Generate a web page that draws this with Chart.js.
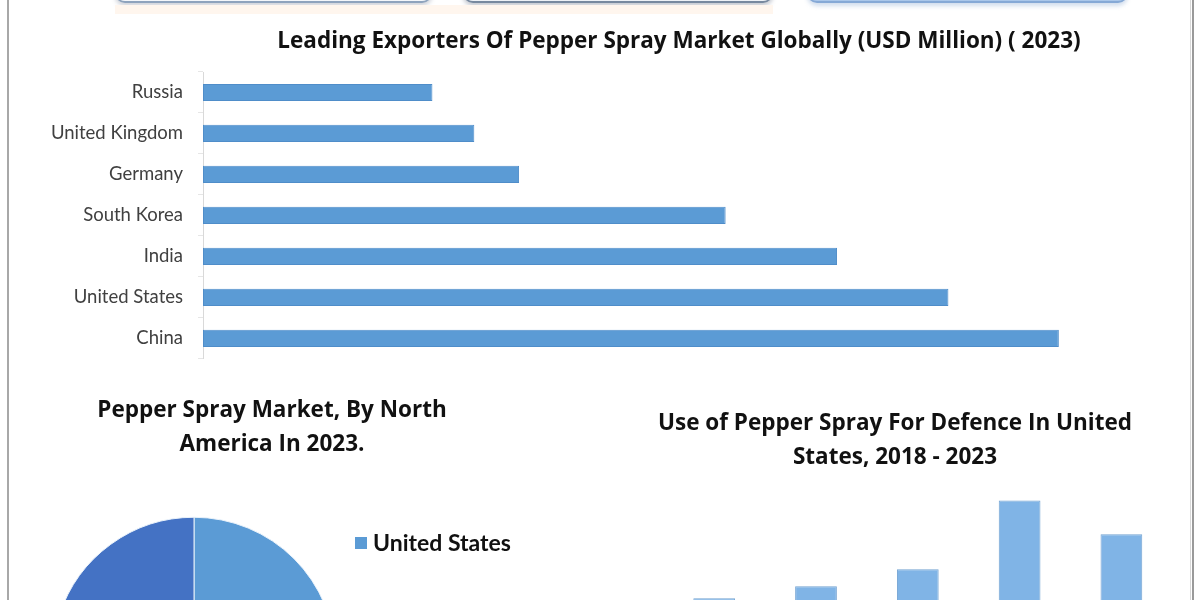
<!DOCTYPE html>
<html>
<head>
<meta charset="utf-8">
<script src="https://cdn.jsdelivr.net/npm/chart.js@4.4.1/dist/chart.umd.min.js"></script>
<style>
  html, body { margin: 0; padding: 0; width: 1200px; height: 600px; overflow: hidden; background: #fff; }
  .abs { position: absolute; }
  canvas { position: absolute; background: transparent; }
  .topbox { position: absolute; top: -40px; height: 43px; border-radius: 10px; box-sizing: border-box; }
</style>
</head>
<body>
<div class="topbox" style="left:115px;width:317px;background:#f4f7fb;border:1px solid #c9d5e3;border-bottom:2px solid #8ea3bd;box-shadow:0 3px 4px rgba(120,130,150,0.35);"></div>
<div class="topbox" style="left:463px;width:310px;background:#eef2f7;border:1px solid #b6c3d3;border-bottom:2px solid #77899f;box-shadow:0 3px 4px rgba(110,120,140,0.4);"></div>
<div class="topbox" style="left:807px;width:321px;background:#aac7ea;border:1px solid #9dbde4;border-bottom:2px solid #86a9d6;box-shadow:0 3px 4px rgba(140,170,210,0.4);"></div>
<div class="abs" style="left:115px;top:5px;width:658px;height:9px;background:#fff6ee;"></div>

<canvas id="exporters" width="1200" height="385" style="left:0;top:0;"></canvas>
<canvas id="northAmerica" width="544" height="500" style="left:0;top:380px;"></canvas>
<canvas id="defence" width="890" height="320" style="left:450px;top:380px;"></canvas>

<div class="abs" style="left:7px;top:0;width:2px;height:600px;background:#a8a8a8;"></div>
<div class="abs" style="left:1190px;top:0;width:1px;height:600px;background:#d8d8d8;"></div>
<div class="abs" style="left:1192px;top:0;width:2px;height:600px;background:#9a9a9a;"></div>

<script>
// ---------- Data ----------
const exporterCountries = ["Russia", "United Kingdom", "Germany", "South Korea", "India", "United States", "China"];
const exporterValues = [24.1, 28.5, 33.2, 54.9, 66.6, 78.3, 89.9];

const regionLabels = ["United States", "Canada", "Mexico"];
const regionShares = [62, 18, 20];

const defenceYears = ["2018", "2019", "2020", "2021", "2022", "2023"];
const defenceValues = [60, 82, 94, 111, 180, 146];

// ---------- Common ----------
const FONT = "Lato, 'Open Sans', 'DejaVu Sans', sans-serif";
const TITLE_FONT = "'Open Sans', Lato, 'DejaVu Sans', sans-serif";
Chart.defaults.font.family = FONT;
Chart.defaults.color = "#404040";

// an invisible box of fixed width used only to reserve layout space
function spacer(position, width) {
  return {
    type: "linear", position: position, display: true,
    afterFit: (s) => { s.width = width; },
    grid: { display: false }, border: { display: false }, ticks: { display: false }
  };
}

// ---------- Chart 1: horizontal bars ----------
new Chart(document.getElementById("exporters"), {
  type: "bar",
  data: {
    labels: exporterCountries,
    datasets: [{
      data: exporterValues,
      backgroundColor: "#5b9bd5",
      borderColor: "#4f8dc9",
      borderWidth: 1,
      borderSkipped: false,
      categoryPercentage: 1,
      barPercentage: 0.42
    }]
  },
  options: {
    indexAxis: "y",
    responsive: false,
    animation: false,
    layout: { padding: { left: 0, right: 45, top: 0, bottom: 12 } },
    plugins: {
      legend: { display: false },
      tooltip: { enabled: false },
      title: {
        display: true,
        fullSize: false,
        text: "Leading Exporters Of Pepper Spray Market Globally (USD Million) ( 2023)",
        color: "#111",
        font: { size: 22.5, weight: "bold", family: TITLE_FONT, lineHeight: 1.2 },
        padding: { top: 28, bottom: 17 }
      }
    },
    scales: {
      x: { display: false, min: 0, max: 100 },
      y: {
        afterFit: (s) => { s.width = 203; },
        grid: { drawOnChartArea: false, drawTicks: true, tickLength: 5, color: "#e6e6e6" },
        border: { display: true, color: "#d9d9d9", width: 1 },
        ticks: { padding: 15, color: "#404040", font: { size: 18.5, family: FONT } }
      }
    }
  }
});

// ---------- Chart 2: pie ----------
const pieLegend = {
  id: "pieLegend",
  afterDraw(chart) {
    const ctx = chart.ctx;
    const ds = chart.data.datasets[0];
    ctx.save();
    ctx.font = "bold 23px " + FONT;
    ctx.textBaseline = "middle";
    chart.data.labels.forEach((lab, i) => {
      const y = 163 + i * 78;
      ctx.fillStyle = ds.backgroundColor[i];
      ctx.fillRect(355, y - 6, 12, 12);
      ctx.fillStyle = "#111";
      ctx.fillText(lab, 373, y + 1);
    });
    ctx.restore();
  }
};

new Chart(document.getElementById("northAmerica"), {
  type: "pie",
  data: {
    labels: regionLabels,
    datasets: [{
      data: regionShares,
      backgroundColor: ["#5b9bd5", "#9dc3e6", "#4472c4"],
      borderColor: "#e8f1fa",
      borderWidth: 1
    }]
  },
  options: {
    responsive: false,
    animation: false,
    layout: { padding: { left: 0, right: 0, top: 0, bottom: 42 } },
    scales: {
      padL: spacer("left", 52),
      padR: spacer("right", 208)
    },
    plugins: {
      legend: { display: false },
      tooltip: { enabled: false },
      title: {
        display: true,
        text: ["Pepper Spray Market, By North", "America In 2023."],
        color: "#111",
        font: { size: 22.5, weight: "bold", family: TITLE_FONT, lineHeight: 1.5 },
        padding: { top: 14, bottom: 18 }
      }
    }
  },
  plugins: [pieLegend]
});

// ---------- Chart 3: vertical bars ----------
new Chart(document.getElementById("defence"), {
  type: "bar",
  data: {
    labels: defenceYears,
    datasets: [{
      data: defenceValues,
      backgroundColor: "#80b4e6",
      borderColor: "#74a3d2",
      borderWidth: 1,
      borderSkipped: false,
      categoryPercentage: 1,
      barPercentage: 0.41
    }]
  },
  options: {
    responsive: false,
    animation: false,
    layout: { padding: { left: 0, right: 0, top: 0, bottom: 20 } },
    plugins: {
      legend: { display: false },
      tooltip: { enabled: false },
      title: {
        display: true,
        text: ["Use of Pepper Spray For Defence In United", "States, 2018 - 2023"],
        color: "#111",
        font: { size: 22.5, weight: "bold", family: TITLE_FONT, lineHeight: 1.5 },
        padding: { top: 27, bottom: 6 }
      }
    },
    scales: {
      x: { display: false },
      y: {
        display: true, min: 0, max: 200,
        afterFit: (s) => { s.width = 111.5; },
        grid: { display: false }, border: { display: false }, ticks: { display: false }
      },
      padR: spacer("right", 167.7)
    }
  }
});
</script>
</body>
</html>
